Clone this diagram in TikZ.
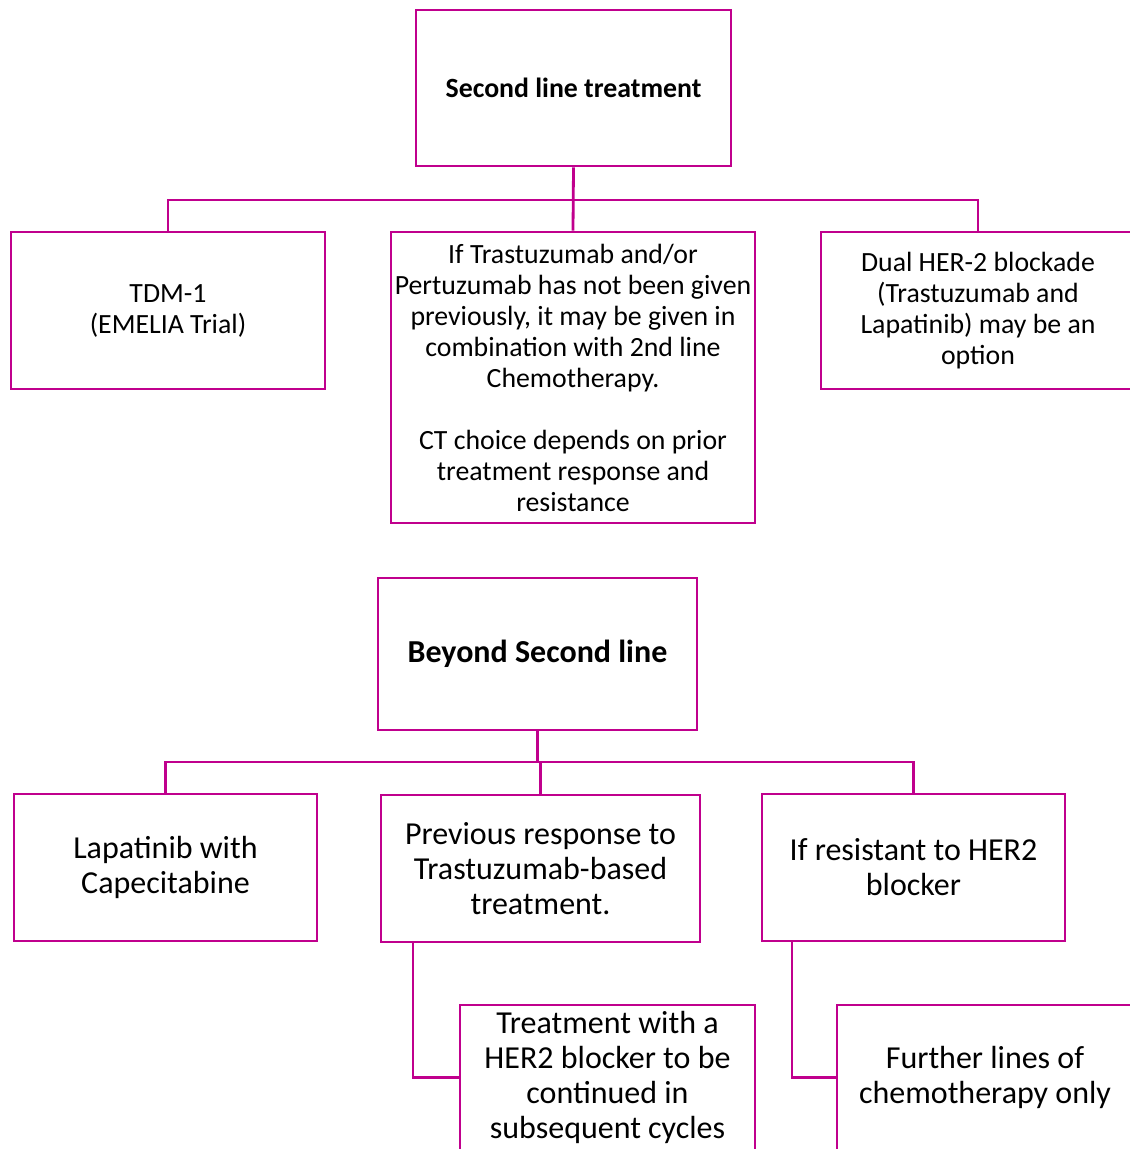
\documentclass[tikz,border=0pt]{standalone}
\usepackage{fontspec}
\setmainfont{Carlito}
\definecolor{mag}{RGB}{192,0,141}
\begin{document}
\begin{tikzpicture}[x=1pt,y=-1pt,
  box/.style={draw=mag,line width=2.8pt,inner sep=0pt,align=center,anchor=center,text=black},
  sm/.style={font=\fontsize{27.8}{31}\selectfont},
  lg/.style={font=\fontsize{32}{35}\selectfont},
  conn/.style={draw=mag,line width=2.8pt}]
\useasboundingbox (0,0) rectangle (1130,1149);
\clip (0,0) rectangle (1130,1149);
% top section
\node[box,sm,minimum width=315,minimum height=156] (top) at (573.5,88) {\textbf{Second line treatment}};
\node[box,sm,minimum width=314,minimum height=157] (tdm) at (168,310.5) {TDM-1\\(EMELIA Trial)};
\node[box,sm,minimum width=364,minimum height=291] (mid) at (573,377.5) {If Trastuzumab and/or\\Pertuzumab has not been given\\previously, it may be given in\\combination with 2nd line\\Chemotherapy.\\[31pt]CT choice depends on prior\\treatment response and\\resistance};
\node[box,sm,minimum width=314,minimum height=157] (dual) at (978,310.5) {Dual HER-2 blockade\\(Trastuzumab and\\Lapatinib) may be an\\option};
\coordinate (b1) at (573,200);
\draw[conn] (top.south) -- (mid.north);
\draw[conn] (tdm.north) |- (b1) -| (dual.north);
% bottom section
\node[box,lg,minimum width=319,minimum height=152] (beyond) at (537.5,654) {\textbf{Beyond Second line}};
\node[box,lg,minimum width=303,minimum height=147] (lap) at (165.5,867.5) {Lapatinib with\\Capecitabine};
\node[box,lg,minimum width=319,minimum height=147] (prev) at (540.5,868.5) {Previous response to\\Trastuzumab-based\\treatment.};
\node[box,lg,minimum width=303,minimum height=147] (res) at (913.5,867.5) {If resistant to HER2\\blocker};
\node[box,lg,minimum width=295,minimum height=145] (treat) at (607.5,1077.5) {Treatment with a\\HER2 blocker to be\\continued in\\subsequent cycles};
\node[box,lg,minimum width=296,minimum height=145] (further) at (985,1077.5) {Further lines of\\chemotherapy only};
\coordinate (b2) at (540,762);
\draw[conn] (beyond.south) -- (beyond.south |- b2);
\draw[conn] (lap.north) |- (b2) -| (res.north);
\draw[conn] (prev.north) -- (prev.north |- b2);
\draw[conn] ([xshift=-127.5pt]prev.south) |- (treat.west);
\draw[conn] ([xshift=-121.5pt]res.south) |- (further.west);
\end{tikzpicture}
\end{document}
